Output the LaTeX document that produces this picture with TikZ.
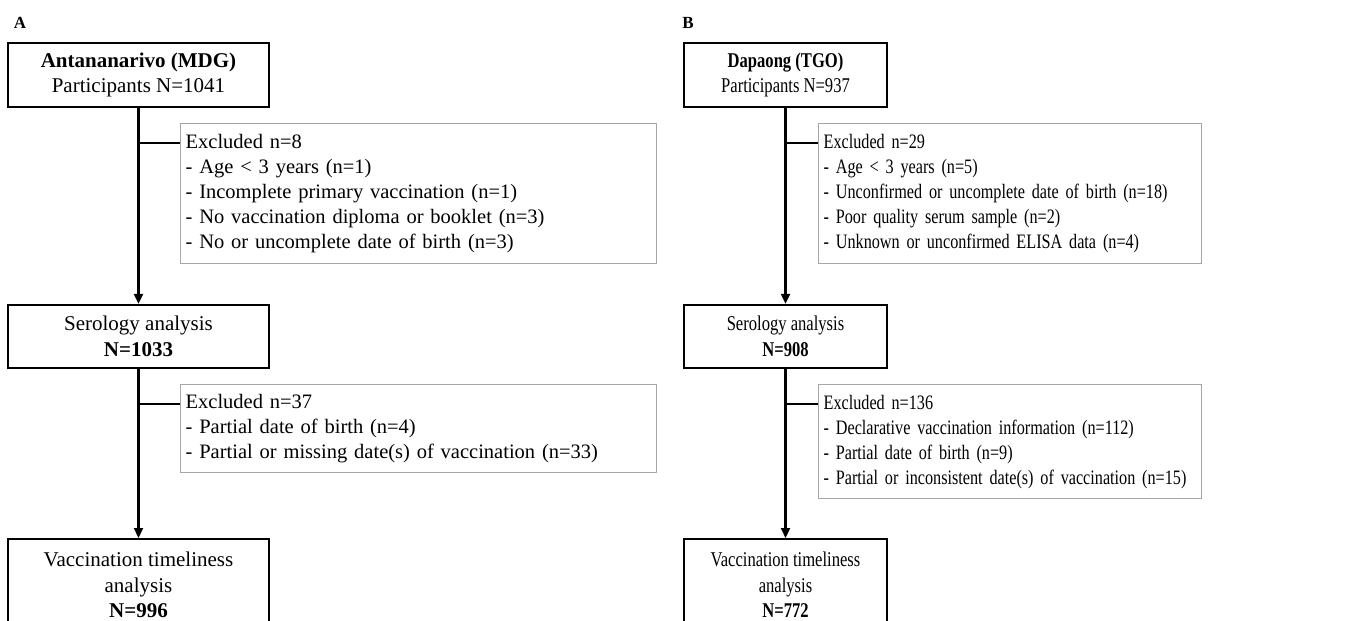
\documentclass[tikz,border=0pt]{standalone}
\usepackage{fontspec}
\setmainfont{Liberation Serif}
\newfontfamily\narrowfont[FakeStretch=0.79]{Liberation Serif}
\usetikzlibrary{arrows.meta}

\tikzset{
  panel/.style={font=\bfseries\fontsize{17}{20}\selectfont, inner sep=0pt},
  stage/.style={draw, line width=2.4pt, align=center, inner sep=0pt, font=\fontsize{21}{25.5}\selectfont},
  exclbox/.style={draw=black!35, line width=1.3pt, align=left, anchor=north west, inner xsep=5pt, inner ysep=0pt, font=\fontsize{20.5}{25}\selectfont},
  link/.style={line width=2.2pt},
  flow/.style={link, -{Triangle[length=10pt,width=9pt]}},
  narrowstage/.style={font=\narrowfont\fontsize{21}{25.5}\selectfont},
  narrowexcl/.style={font=\narrowfont\fontsize{20.5}{25}\selectfont}
}

\begin{document}
\begin{tikzpicture}[x=1pt,y=-1pt]
  \clip (0,0) rectangle (1352,621);

  % panel A
  \node[panel] (labA) at (20,23) {A};
  \node[stage, minimum width=261pt, minimum height=64pt] (topA) at (138.5,75)
    {\textbf{Antananarivo (MDG)}\\Participants N=1041};
  \node[stage, minimum width=261pt, minimum height=63pt] (serA) at (138.5,336.5)
    {Serology analysis\\\textbf{N=1033}};
  \node[stage, minimum width=261pt, minimum height=92pt, anchor=north] (finA) at (138.5,538)
    {Vaccination timeliness\\analysis\\\textbf{N=996}};

  \node[exclbox, text width=466pt, minimum height=140pt] (exclA1) at (180,123)
    {Excluded n=8\\- Age < 3 years (n=1)\\- Incomplete primary vaccination (n=1)\\- No vaccination diploma or booklet (n=3)\\- No or uncomplete date of birth (n=3)};
  \node[exclbox, text width=466pt, minimum height=88pt] (exclA2) at (180,384)
    {Excluded n=37\\- Partial date of birth (n=4)\\- Partial or missing date(s) of vaccination (n=33)};

  \draw[flow] (topA.south) -- (serA.north);
  \draw[flow] (serA.south) -- (finA.north);
  \draw[link] ([yshift=-20pt]exclA1.north west) -- ([yshift=-20pt]exclA1.north west -| topA.south);
  \draw[link] ([yshift=-20pt]exclA2.north west) -- ([yshift=-20pt]exclA2.north west -| serA.south);

  % panel B
  \node[panel] (labB) at (688,23) {B};
  \node[stage, narrowstage, minimum width=203pt, minimum height=64pt] (topB) at (785.5,75)
    {\textbf{Dapaong (TGO)}\\Participants N=937};
  \node[stage, narrowstage, minimum width=203pt, minimum height=63pt] (serB) at (785.5,336.5)
    {Serology analysis\\\textbf{N=908}};
  \node[stage, narrowstage, minimum width=203pt, minimum height=92pt, anchor=north] (finB) at (785.5,538)
    {Vaccination timeliness\\analysis\\\textbf{N=772}};

  \node[exclbox, narrowexcl, text width=373pt, minimum height=140pt] (exclB1) at (818,123)
    {Excluded n=29\\- Age < 3 years (n=5)\\- Unconfirmed or uncomplete date of birth (n=18)\\- Poor quality serum sample (n=2)\\- Unknown or unconfirmed ELISA data (n=4)};
  \node[exclbox, narrowexcl, text width=373pt, minimum height=114pt] (exclB2) at (818,384)
    {Excluded n=136\\- Declarative vaccination information (n=112)\\- Partial date of birth (n=9)\\- Partial or inconsistent date(s) of vaccination (n=15)};

  \draw[flow] (topB.south) -- (serB.north);
  \draw[flow] (serB.south) -- (finB.north);
  \draw[link] ([yshift=-20pt]exclB1.north west) -- ([yshift=-20pt]exclB1.north west -| topB.south);
  \draw[link] ([yshift=-20pt]exclB2.north west) -- ([yshift=-20pt]exclB2.north west -| serB.south);
\end{tikzpicture}
\end{document}
